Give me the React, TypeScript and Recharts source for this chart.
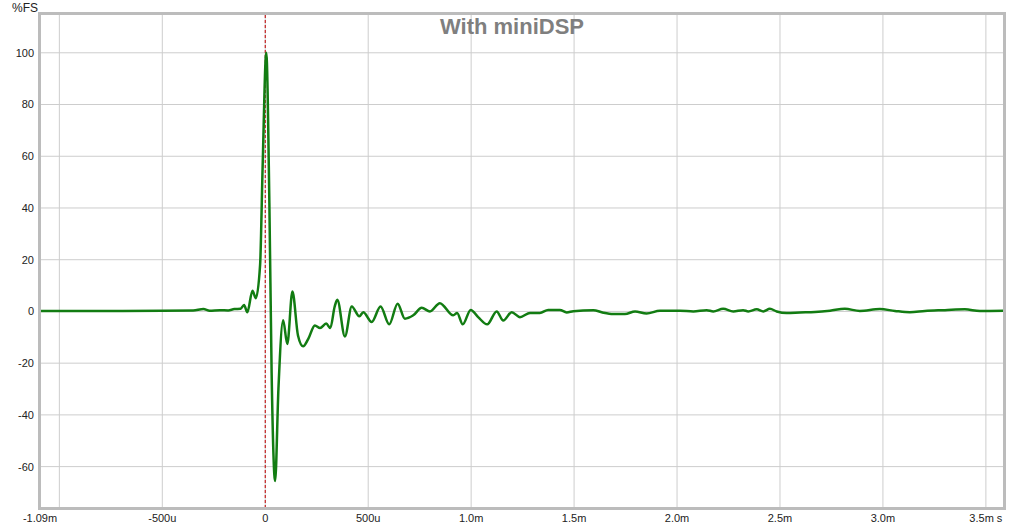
import * as React from "react"
import {
    CartesianGrid,
    Line,
    LineChart,
    ReferenceLine,
    XAxis,
    YAxis,
} from "recharts"

// impulse response, time in ms, level in %FS
const timeMs = [
    -1.094, -0.8, -0.5, -0.35, -0.3, -0.27, -0.22, -0.18, -0.15, -0.12,
    -0.103, -0.087, -0.062, -0.046, -0.025, -0.013, 0.005, 0.02, 0.031, 0.048,
    0.064, 0.087, 0.107, 0.132, 0.159, 0.184, 0.209, 0.241, 0.266, 0.296,
    0.316, 0.337, 0.35, 0.387, 0.42, 0.457, 0.476, 0.517, 0.56, 0.602,
    0.643, 0.678, 0.719, 0.76, 0.8, 0.848, 0.913, 0.932, 0.959, 0.998,
    1.034, 1.078, 1.124, 1.156, 1.197, 1.237, 1.286, 1.334, 1.374, 1.431,
    1.464, 1.496, 1.593, 1.642, 1.69, 1.747, 1.796, 1.852, 1.917, 2.014,
    2.079, 2.144, 2.176, 2.224, 2.273, 2.321, 2.346, 2.387, 2.419, 2.451,
    2.484, 2.532, 2.597, 2.67, 2.743, 2.815, 2.888, 2.985, 3.058, 3.131,
    3.204, 3.301, 3.398, 3.471, 3.588,
]

const levelPct = [
    0.2, 0.2, 0.3, 0.4, 0.9, 0.3, 0.5, 0.4, 0.9, 1.0,
    2.5, -0.3, 8, 5.1, 18, 55, 100, 42, -23.8, -65.6,
    -30, -3.4, -12.6, 7.7, -9.3, -13.5, -10.6, -5.4, -6.4, -4.7,
    -6.4, 1.8, 4.5, -9.7, 1.9, -1.9, -0.3, -4.1, 1.9, -5,
    3, -2.8, -1.5, 1.4, 0, 3.2, -1.5, -0.6, -5, 0.6,
    -2.2, -5, 0, -3.5, -0.3, -2.2, -0.6, -0.6, 0.6, 0.6,
    -0.4, 0.1, 0.5, -0.5, -1, -1, 0, -0.8, 0.3, 0.3,
    0, 0.5, 0, 1, 0, 0.5, 0, 0.8, 0, 1,
    0, -0.6, -0.4, -0.2, 0.3, 1.0, 0.2, 0.9, 0.2, -0.3,
    0.2, 0.5, 0.8, 0.2, 0.3,
]

const xTicks = [-1.094, -1.0, -0.5, 0, 0.5, 1.0, 1.5, 2.0, 2.5, 3.0, 3.5]
const xTickLabels = ["-1.09m", "", "-500u", "0", "500u", "1.0m", "1.5m", "2.0m", "2.5m", "3.0m", "3.5m s"]
const yTicks = [-60, -40, -20, 0, 20, 40, 60, 80, 100]

const data = timeMs.map((t, i) => ({ t, v: levelPct[i] }))

const font = "'Liberation Sans', Arial, sans-serif"

export default function App() {
    return (
        <div style={{ position: "absolute", left: 0, top: 0, width: 1024, height: 531, background: "#fff", fontFamily: font }}>
            <LineChart
                width={1024}
                height={531}
                data={data}
                margin={{ top: 14, right: 20, bottom: 0, left: 0 }}
            >
                <CartesianGrid stroke="#cdcdcd" strokeWidth={1} />
                <XAxis
                    dataKey="t"
                    type="number"
                    domain={[-1.094, 3.588]}
                    ticks={xTicks}
                    tickFormatter={(v: number) => xTickLabels[xTicks.indexOf(v)] ?? ""}
                    axisLine={false}
                    tickLine={false}
                    height={23}
                    tickSize={4}
                    tick={{ fill: "#222", fontSize: 11, fontFamily: font }}
                    interval={0}
                    allowDataOverflow
                />
                <YAxis
                    type="number"
                    domain={[-76, 115]}
                    ticks={yTicks}
                    axisLine={false}
                    tickLine={false}
                    width={40}
                    tickSize={4}
                    tick={{ fill: "#222", fontSize: 11, fontFamily: font }}
                    interval={0}
                    allowDataOverflow
                />
                <ReferenceLine x={0} stroke="#c00000" strokeDasharray="3 2" strokeWidth={1} />
                <Line
                    type="monotone"
                    dataKey="v"
                    stroke="#127c12"
                    strokeWidth={2.5}
                    dot={false}
                    isAnimationActive={false}
                />
            </LineChart>
            <div
                style={{
                    position: "absolute",
                    left: 38,
                    top: 12,
                    width: 968,
                    height: 498,
                    boxSizing: "border-box",
                    border: "3px solid #bcbcbc",
                    pointerEvents: "none",
                }}
            />
            <div style={{ position: "absolute", left: 12, top: 1, fontSize: 12, color: "#222" }}>%FS</div>
            <div
                style={{
                    position: "absolute",
                    left: 0,
                    width: 1024,
                    top: 14,
                    textAlign: "center",
                    fontSize: 22,
                    fontWeight: "bold",
                    color: "#7f7f7f",
                }}
            >
                With miniDSP
            </div>
        </div>
    )
}
